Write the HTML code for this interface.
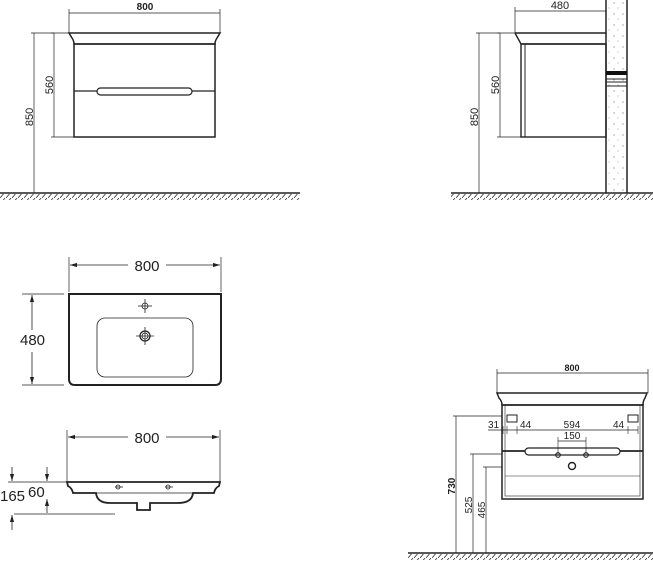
<!DOCTYPE html>
<html><head><meta charset="utf-8"><style>html,body{margin:0;padding:0;background:#fff}svg{display:block}</style></head><body>
<svg width="653" height="562" viewBox="0 0 653 562" xmlns="http://www.w3.org/2000/svg" font-family="Liberation Sans, sans-serif">
<defs>
<pattern id="h" width="6" height="6" patternUnits="userSpaceOnUse"><line x1="0" y1="6" x2="5" y2="0" stroke="#333" stroke-width="0.8"/></pattern>
<pattern id="s" width="9" height="11" patternUnits="userSpaceOnUse"><circle cx="2" cy="3" r="0.6" fill="#777"/><circle cx="6" cy="8" r="0.5" fill="#888"/></pattern>
<marker id="a" viewBox="0 0 10 10" refX="10" refY="5" markerWidth="9" markerHeight="9" orient="auto-start-reverse"><path d="M0,2 L10,5 L0,8 z" fill="#222"/></marker>
</defs>
<g stroke="#222" fill="none">
<!-- Panel 1 -->
<line x1="69" y1="13" x2="220" y2="13" stroke-width="0.8"/>
<line x1="69" y1="9" x2="69" y2="33" stroke-width="0.7"/><line x1="220" y1="9" x2="220" y2="33" stroke-width="0.7"/>
<path d="M69,33 H220 L217,38 Q215,41 215,44 H74 Q74,41 72,38 Z" stroke-width="1.5"/>
<rect x="74" y="44" width="141" height="93" stroke-width="1.5"/>
<line x1="74" y1="91" x2="97" y2="91" stroke-width="1.3"/><line x1="192" y1="91" x2="215" y2="91" stroke-width="1.3"/>
<rect x="97" y="88" width="95" height="7" rx="3.5" stroke-width="1.2"/>
<line x1="54" y1="33" x2="54" y2="137" stroke-width="0.7"/>
<line x1="51" y1="33" x2="69" y2="33" stroke-width="0.7"/><line x1="51" y1="137" x2="74" y2="137" stroke-width="0.7"/>
<line x1="34" y1="33" x2="34" y2="193" stroke-width="0.7"/><line x1="31" y1="33" x2="54" y2="33" stroke-width="0.7"/>
<line x1="0" y1="193" x2="300" y2="193" stroke-width="1.5"/>
<rect x="0" y="194" width="300" height="6" fill="url(#h)" stroke="none"/>
<!-- Panel 2 -->
<line x1="515" y1="11" x2="606" y2="11" stroke-width="0.8"/>
<line x1="515" y1="7" x2="515" y2="33" stroke-width="0.7"/>
<path d="M515,33 H606 M515,33 L521,44 H606" stroke-width="1.4"/>
<rect x="521" y="44" width="85" height="93" stroke-width="1.4"/>
<line x1="525" y1="44" x2="525" y2="137" stroke-width="1"/>
<line x1="500" y1="33" x2="500" y2="137" stroke-width="0.7"/>
<line x1="497" y1="33" x2="515" y2="33" stroke-width="0.7"/><line x1="497" y1="137" x2="521" y2="137" stroke-width="0.7"/>
<line x1="479" y1="33" x2="479" y2="193" stroke-width="0.7"/><line x1="476" y1="33" x2="500" y2="33" stroke-width="0.7"/>
<rect x="607" y="0" width="19" height="193" fill="url(#s)" stroke="none"/>
<line x1="606" y1="0" x2="606" y2="193" stroke-width="1.5"/><line x1="627" y1="0" x2="627" y2="193" stroke-width="1.5"/>
<rect x="606" y="71" width="21" height="4" fill="#111" stroke="none"/>
<line x1="606" y1="79" x2="627" y2="79" stroke-width="1"/><line x1="606" y1="82" x2="627" y2="82" stroke-width="1"/><line x1="606" y1="86" x2="627" y2="86" stroke-width="1"/>
<line x1="451" y1="193" x2="653" y2="193" stroke-width="1.5"/>
<rect x="451" y="194" width="202" height="6" fill="url(#h)" stroke="none"/>
<!-- Panel 3 -->
<line x1="70" y1="265" x2="128" y2="265" stroke-width="0.8" marker-start="url(#a)"/>
<line x1="166" y1="265" x2="220" y2="265" stroke-width="0.8" marker-end="url(#a)"/>
<line x1="69" y1="257" x2="69" y2="292" stroke-width="0.7"/><line x1="221" y1="257" x2="221" y2="292" stroke-width="0.7"/>
<path d="M69,294 H221 V379 Q221,385 215,385 H75 Q69,385 69,379 Z" stroke-width="2"/>
<rect x="97" y="318" width="96" height="59" rx="8" stroke-width="0.8"/>
<circle cx="145" cy="306" r="3" stroke-width="0.8"/><line x1="138" y1="306" x2="152" y2="306" stroke-width="0.8"/><line x1="145" y1="299" x2="145" y2="313" stroke-width="0.8"/>
<circle cx="145" cy="336" r="5" stroke-width="1.3"/><circle cx="145" cy="336" r="3" stroke-width="0.8"/><line x1="136" y1="336" x2="154" y2="336" stroke-width="0.8"/><line x1="145" y1="327" x2="145" y2="345" stroke-width="0.8"/>
<line x1="22" y1="294" x2="64" y2="294" stroke-width="0.7"/><line x1="22" y1="385" x2="64" y2="385" stroke-width="0.7"/>
<line x1="32" y1="295" x2="32" y2="330" stroke-width="0.8" marker-start="url(#a)"/>
<line x1="32" y1="352" x2="32" y2="384" stroke-width="0.8" marker-end="url(#a)"/>
<!-- Panel 4 -->
<line x1="68" y1="437" x2="128" y2="437" stroke-width="0.8" marker-start="url(#a)"/>
<line x1="166" y1="437" x2="219" y2="437" stroke-width="0.8" marker-end="url(#a)"/>
<line x1="67" y1="430" x2="67" y2="481" stroke-width="0.7"/><line x1="220" y1="430" x2="220" y2="481" stroke-width="0.7"/>
<path d="M67,482 H220 L219,486 Q215,488 214,493 H193 Q192,503 178,503 H150 V510 H137 V503 H110 Q97,503 96,493 H73 Q72,488 68,486 Z" stroke-width="1.8"/>
<line x1="73" y1="493" x2="214" y2="493" stroke-width="0.8"/>
<circle cx="118" cy="487" r="2" stroke-width="0.8"/><line x1="115" y1="487" x2="123" y2="487" stroke-width="0.8"/>
<circle cx="168" cy="487" r="2" stroke-width="0.8"/><line x1="165" y1="487" x2="173" y2="487" stroke-width="0.8"/>
<line x1="8" y1="482" x2="67" y2="482" stroke-width="0.7"/><line x1="14" y1="514" x2="115" y2="514" stroke-width="0.7"/>
<line x1="12" y1="467" x2="12" y2="481" stroke-width="0.8" marker-end="url(#a)"/>
<line x1="12" y1="530" x2="12" y2="515" stroke-width="0.8" marker-end="url(#a)"/>
<line x1="47" y1="467" x2="47" y2="481" stroke-width="0.8" marker-end="url(#a)"/>
<line x1="47" y1="513" x2="47" y2="499" stroke-width="0.8" marker-end="url(#a)"/>
<!-- Panel 5 -->
<line x1="497" y1="373" x2="648" y2="373" stroke-width="0.8"/>
<line x1="497" y1="369" x2="497" y2="393" stroke-width="0.7"/><line x1="648" y1="369" x2="648" y2="393" stroke-width="0.7"/>
<path d="M497,393 H647 L645,398 Q643,401 643,405 H502 Q502,401 499,398 Z" stroke-width="1.5"/>
<rect x="502" y="405" width="141" height="94" stroke-width="1.5"/>
<rect x="505" y="405" width="135" height="91" stroke-width="0.6"/>
<line x1="502" y1="451" x2="525" y2="451" stroke-width="1.8"/><line x1="620" y1="451" x2="643" y2="451" stroke-width="1.8"/>
<rect x="525" y="448" width="95" height="7" rx="3.5" stroke-width="1.2"/>
<line x1="505" y1="476" x2="640" y2="476" stroke-width="0.6"/>
<rect x="507" y="415" width="10" height="7" stroke-width="1"/><rect x="628" y="415" width="10" height="7" stroke-width="1"/>
<line x1="488" y1="430" x2="638" y2="430" stroke-width="0.7"/>
<line x1="503" y1="426" x2="503" y2="434" stroke-width="0.6"/><line x1="507" y1="426" x2="507" y2="434" stroke-width="0.6"/><line x1="517" y1="426" x2="517" y2="434" stroke-width="0.6"/><line x1="628" y1="426" x2="628" y2="434" stroke-width="0.6"/><line x1="638" y1="426" x2="638" y2="434" stroke-width="0.6"/>
<line x1="558" y1="441" x2="586" y2="441" stroke-width="0.7"/>
<line x1="558" y1="437" x2="558" y2="455" stroke-width="0.6"/><line x1="586" y1="437" x2="586" y2="455" stroke-width="0.6"/>
<circle cx="558" cy="455" r="2.3" stroke-width="1.1"/><circle cx="586" cy="455" r="2.3" stroke-width="1.1"/>
<circle cx="572" cy="466" r="3.5" stroke-width="1.4"/>
<line x1="456" y1="416" x2="456" y2="553" stroke-width="0.7"/><line x1="453" y1="416" x2="502" y2="416" stroke-width="0.7"/>
<line x1="473" y1="454" x2="473" y2="553" stroke-width="0.7"/><line x1="470" y1="454" x2="502" y2="454" stroke-width="0.7"/>
<line x1="486" y1="467" x2="486" y2="553" stroke-width="0.7"/><line x1="483" y1="467" x2="502" y2="467" stroke-width="0.7"/>
<line x1="408" y1="553" x2="653" y2="553" stroke-width="1.5"/>
<rect x="408" y="554" width="245" height="6" fill="url(#h)" stroke="none"/>
</g>
<g fill="#222" font-size="11">
<text x="145" y="10" text-anchor="middle" font-weight="bold" font-size="10">800</text>
<text transform="translate(53,85) rotate(-90)" text-anchor="middle">560</text>
<text transform="translate(33,117) rotate(-90)" text-anchor="middle">850</text>
<text x="560" y="9" text-anchor="middle">480</text>
<text transform="translate(499,85) rotate(-90)" text-anchor="middle">560</text>
<text transform="translate(478,117) rotate(-90)" text-anchor="middle">850</text>
<text x="147" y="271" text-anchor="middle" font-size="15">800</text>
<text x="20" y="345" font-size="15">480</text>
<text x="147" y="443" text-anchor="middle" font-size="15">800</text>
<text x="0" y="501" font-size="15">165</text>
<text x="28" y="497" font-size="15">60</text>
<text x="572" y="371" text-anchor="middle" font-size="9" font-weight="bold">800</text>
<text x="488" y="428" font-size="10">31</text>
<text x="520" y="428" font-size="10">44</text>
<text x="572" y="428" text-anchor="middle" font-size="10">594</text>
<text x="613" y="428" font-size="10">44</text>
<text x="572" y="439" text-anchor="middle" font-size="10">150</text>
<text transform="translate(455,486) rotate(-90)" text-anchor="middle" font-size="10" font-weight="bold">730</text>
<text transform="translate(472,505) rotate(-90)" text-anchor="middle" font-size="10">525</text>
<text transform="translate(485,510) rotate(-90)" text-anchor="middle" font-size="10">465</text>
</g>
</svg>
</body></html>
